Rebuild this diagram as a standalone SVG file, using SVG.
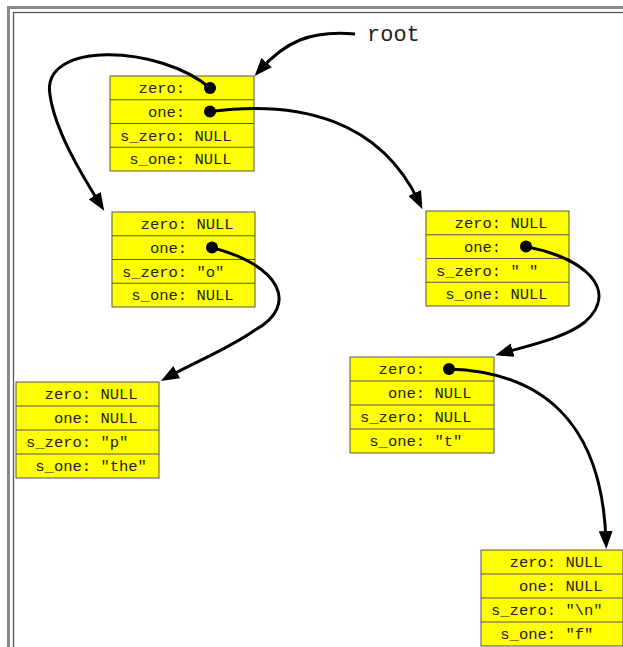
<svg xmlns="http://www.w3.org/2000/svg" width="623" height="647" viewBox="0 0 623 647">
<style>
.box{fill:#ffff00;stroke:#555;stroke-width:1}
.sep{stroke:#555;stroke-width:1}
.t{font-family:"Liberation Mono","Courier New",monospace;font-size:15.5px;fill:#222}
.root{font-family:"Liberation Mono","Courier New",monospace;font-size:22px;fill:#222}
.dot{fill:#000}
.edge{fill:none;stroke:#000;stroke-width:3;marker-end:url(#ah)}
</style>
<defs>
<marker id="ah" markerUnits="userSpaceOnUse" viewBox="0 0 18 14" markerWidth="18" markerHeight="14" refX="10" refY="7" orient="auto">
<path d="M0,0 L18,7 L0,14 z" fill="#000"/>
</marker>
</defs>
<rect width="623" height="647" fill="#fff"/>
<g id="frame">
<rect x="8.5" y="7.5" width="700" height="700" fill="none" stroke="#8a8a8a" stroke-width="3"/>
<rect x="13.5" y="12.5" width="700" height="700" fill="none" stroke="#555" stroke-width="1.3"/>
</g>
<g id="root">
<text class="root" x="367" y="41">root</text>
</g>
<g id="nodeA">
<rect class="box" x="110" y="76" width="144" height="95"/>
<line class="sep" x1="110" y1="99.75" x2="254" y2="99.75"/>
<line class="sep" x1="110" y1="123.5" x2="254" y2="123.5"/>
<line class="sep" x1="110" y1="147.25" x2="254" y2="147.25"/>
<text class="t" x="138.6" y="93">zero:</text>
<text class="t" x="147.9" y="116.75">one:</text>
<text class="t" x="120" y="140.5">s_zero: NULL</text>
<text class="t" x="129.3" y="164.25">s_one: NULL</text>
<circle class="dot" cx="210" cy="88" r="6"/>
<circle class="dot" cx="210" cy="111.6" r="6"/>
</g>
<g id="nodeB">
<rect class="box" x="112" y="212" width="143" height="95"/>
<line class="sep" x1="112" y1="235.75" x2="255" y2="235.75"/>
<line class="sep" x1="112" y1="259.5" x2="255" y2="259.5"/>
<line class="sep" x1="112" y1="283.25" x2="255" y2="283.25"/>
<text class="t" x="140.6" y="229">zero: NULL</text>
<text class="t" x="149.9" y="252.75">one:</text>
<text class="t" x="122" y="276.5">s_zero: "o"</text>
<text class="t" x="131.3" y="300.25">s_one: NULL</text>
<circle class="dot" cx="212" cy="247.6" r="6"/>
</g>
<g id="nodeC">
<rect class="box" x="426" y="211" width="143" height="95"/>
<line class="sep" x1="426" y1="234.75" x2="569" y2="234.75"/>
<line class="sep" x1="426" y1="258.5" x2="569" y2="258.5"/>
<line class="sep" x1="426" y1="282.25" x2="569" y2="282.25"/>
<text class="t" x="454.6" y="228">zero: NULL</text>
<text class="t" x="463.9" y="251.75">one:</text>
<text class="t" x="436" y="275.5">s_zero: " "</text>
<text class="t" x="445.3" y="299.25">s_one: NULL</text>
<circle class="dot" cx="526" cy="246.6" r="6"/>
</g>
<g id="nodeD">
<rect class="box" x="16" y="382" width="143" height="96"/>
<line class="sep" x1="16" y1="406" x2="159" y2="406"/>
<line class="sep" x1="16" y1="430" x2="159" y2="430"/>
<line class="sep" x1="16" y1="454" x2="159" y2="454"/>
<text class="t" x="44.6" y="399">zero: NULL</text>
<text class="t" x="53.9" y="423">one: NULL</text>
<text class="t" x="26" y="447">s_zero: "p"</text>
<text class="t" x="35.3" y="471">s_one: "the"</text>
</g>
<g id="nodeE">
<rect class="box" x="350" y="357" width="144" height="96"/>
<line class="sep" x1="350" y1="381" x2="494" y2="381"/>
<line class="sep" x1="350" y1="405" x2="494" y2="405"/>
<line class="sep" x1="350" y1="429" x2="494" y2="429"/>
<text class="t" x="378.6" y="374">zero:</text>
<text class="t" x="387.9" y="398">one: NULL</text>
<text class="t" x="360" y="422">s_zero: NULL</text>
<text class="t" x="369.3" y="446">s_one: "t"</text>
<circle class="dot" cx="449" cy="369" r="6"/>
</g>
<g id="nodeF">
<rect class="box" x="481" y="550" width="142" height="96"/>
<line class="sep" x1="481" y1="574" x2="623" y2="574"/>
<line class="sep" x1="481" y1="598" x2="623" y2="598"/>
<line class="sep" x1="481" y1="622" x2="623" y2="622"/>
<text class="t" x="509.6" y="567">zero: NULL</text>
<text class="t" x="518.9" y="591">one: NULL</text>
<text class="t" x="491" y="615">s_zero: "\n"</text>
<text class="t" x="500.3" y="639">s_one: "f"</text>
</g>
<g id="connectors">
<path class="edge" d="M355,34 C310,30 285,42 260,70"/>
<path class="edge" d="M210,88 C160,45 40,40 50,95 C55,130 80,172 100,204"/>
<path class="edge" d="M210,111.6 C300,100 380,120 419,202"/>
<path class="edge" d="M212,247.6 C280,265 300,305 255,330 C230,348 195,362 168,377"/>
<path class="edge" d="M526,246.6 C585,258 620,290 585,322 C565,338 530,345 503,353"/>
<path class="edge" d="M449,369 C540,372 602,420 606,541"/>
</g>
</svg>
